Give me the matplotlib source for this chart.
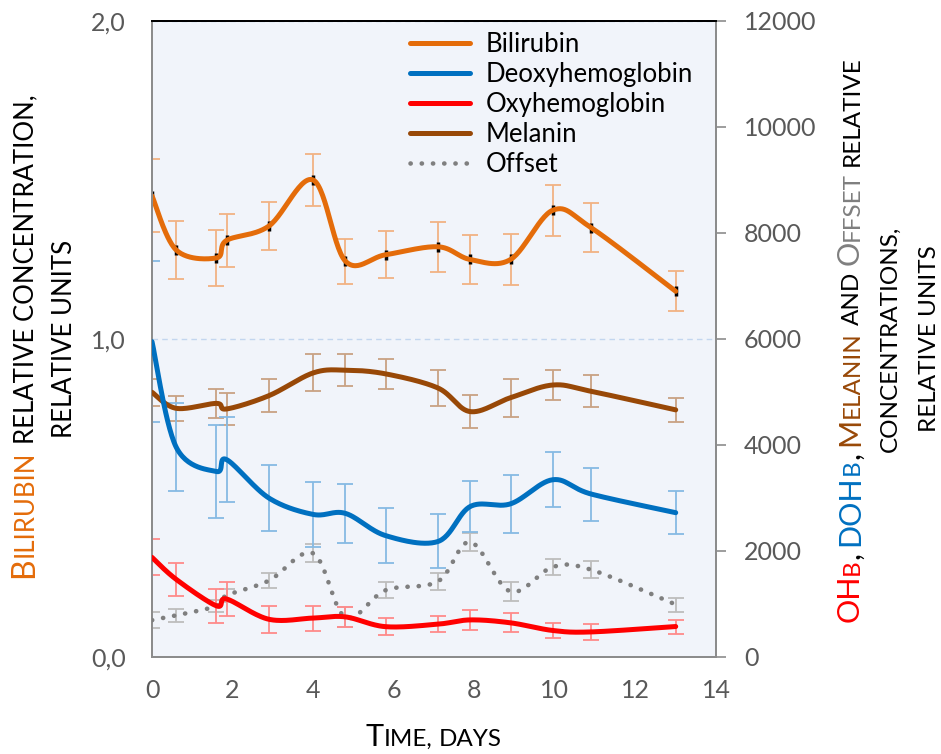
import numpy as np
import matplotlib
matplotlib.use('Agg')
import matplotlib.pyplot as plt
from matplotlib.lines import Line2D
from matplotlib.transforms import IdentityTransform
from matplotlib.font_manager import FontProperties

plt.rcParams['font.family'] = ['Lato', 'DejaVu Sans']

# measurement days
days = [0, 0.6, 1.6, 1.85, 2.9, 4.0, 4.8, 5.8, 7.1, 7.9, 8.9, 9.95, 10.9, 13.0]

# bilirubin, left axis
bilirubin = [1.45, 1.28, 1.255, 1.31, 1.355, 1.50, 1.245, 1.265, 1.29, 1.25, 1.25, 1.405, 1.35, 1.15]
bilirubin_err = [0.115, 0.09, 0.087, 0.083, 0.075, 0.083, 0.071, 0.074, 0.078, 0.078, 0.081, 0.08, 0.077, 0.063]

# right axis series
deoxy = [5950, 3960, 3500, 3725, 3000, 2690, 2710, 2290, 2180, 2840, 2890, 3345, 3075, 2723]
deoxy_err = [1520, 830, 870, 800, 620, 610, 550, 520, 510, 490, 550, 520, 500, 410]
oxy = [1880, 1465, 965, 1095, 712, 735, 757, 572, 620, 700, 645, 500, 473, 575]
oxy_err = [340, 315, 320, 327, 250, 235, 182, 157, 157, 195, 182, 141, 147, 132]
melanin = [4995, 4692, 4785, 4680, 4930, 5360, 5412, 5342, 5075, 4630, 4893, 5132, 5013, 4663]
melanin_err = [257, 233, 279, 307, 308, 349, 299, 285, 339, 314, 358, 283, 302, 229]
offset = [695, 785, 962, 1160, 1440, 1956, 750, 1260, 1428, 2170, 1236, 1700, 1647, 990]
offset_err = [154, 120, 120, 120, 141, 170, 192, 148, 157, 167, 182, 148, 157, 132]

x_ticks = [0, 2, 4, 6, 8, 10, 12, 14]
left_ticks = [0, 1, 2]
left_ticklabels = ['0,0', '1,0', '2,0']
right_ticks = [0, 2000, 4000, 6000, 8000, 10000, 12000]

ORANGE, BLUE, RED, BROWN, GREY = '#E46C0A', '#0070C0', '#FF0000', '#984807', '#7F7F7F'


def smooth_curve(x, y, steps=30):
    # Excel-like smoothed line: Bezier segments with Catmull-Rom control points
    p = np.column_stack([x, y]).astype(float)
    n = len(p)
    t = np.linspace(0, 1, steps)[:, None]
    parts = []
    for i in range(n - 1):
        p0, p1, p2, p3 = p[max(i - 1, 0)], p[i], p[i + 1], p[min(i + 2, n - 1)]
        c1 = p1 + (p2 - p0) / 6
        c2 = p2 - (p3 - p1) / 6
        seg = (1 - t) ** 3 * p1 + 3 * (1 - t) ** 2 * t * c1 + 3 * (1 - t) * t ** 2 * c2 + t ** 3 * p2
        parts.append(seg if i == 0 else seg[1:])
    s = np.vstack(parts)
    return s[:, 0], s[:, 1]


W, H = 941, 754
fig = plt.figure(figsize=(W / 100, H / 100), dpi=100)
ax = fig.add_axes([152 / W, 1 - 657 / H, (716 - 152) / W, (657 - 21) / H])
ax.set_facecolor('#F1F4FA')
ax2 = ax.twinx()

# bilirubin on the left scale
ax.errorbar(days, bilirubin, yerr=bilirubin_err, fmt='none', ecolor='#F2B283',
            elinewidth=1.3, capsize=6, capthick=1.3, zorder=2)
ax.plot(days, bilirubin, ls='none', marker='|', ms=7, mew=2.5, color='black', zorder=3)
ax.plot(*smooth_curve(days, bilirubin), color=ORANGE, lw=3.6, solid_capstyle='round', zorder=4)

# the rest on the right scale
series = [
    (offset, offset_err, GREY, '#BDBDBD'),
    (oxy, oxy_err, RED, '#FF8A8A'),
    (melanin, melanin_err, BROWN, '#C9A283'),
    (deoxy, deoxy_err, BLUE, '#86BAE3'),
]
for vals, err, col, ecol in series:
    ax2.errorbar(days, vals, yerr=err, fmt='none', ecolor=ecol,
                 elinewidth=1.3, capsize=6, capthick=1.3, zorder=2)
    sx, sy = smooth_curve(days, vals)
    if col == GREY:
        ax2.plot(sx, sy, color=col, lw=3.3, ls=(0, (0.05, 2.4)), dash_capstyle='round', zorder=3)
    else:
        ax2.plot(sx, sy, color=col, lw=3.6, solid_capstyle='round', zorder=3)

ax.set_xlim(0, 14)
ax.set_ylim(0, 2)
ax2.set_ylim(0, 12000)
ax.set_xticks(x_ticks)
ax.set_yticks(left_ticks)
ax.set_yticklabels(left_ticklabels)
ax2.set_yticks(right_ticks)

ax.set_axisbelow(True)
ax.yaxis.grid(True, color='#C3D6EF', ls=(0, (4, 3)), lw=1.0)

ax.tick_params(axis='both', length=0, labelsize=18, labelcolor='#595959')
ax.tick_params(axis='y', pad=19)
ax.tick_params(axis='x', pad=16)
ax2.tick_params(axis='y', length=7, width=1.2, color='#8C8C8C', direction='out',
                labelsize=18, labelcolor='#595959', pad=13)

for a in (ax, ax2):
    for side in ('left', 'right', 'bottom'):
        a.spines[side].set_color('#8C8C8C')
        a.spines[side].set_linewidth(1.4)
    a.spines['top'].set_color('black')
    a.spines['top'].set_linewidth(1.4)

handles = [
    Line2D([], [], color=ORANGE, lw=3.6, solid_capstyle='round'),
    Line2D([], [], color=BLUE, lw=3.6, solid_capstyle='round'),
    Line2D([], [], color=RED, lw=3.6, solid_capstyle='round'),
    Line2D([], [], color=BROWN, lw=3.6, solid_capstyle='round'),
    Line2D([], [], color=GREY, lw=3.3, ls=(0, (0.05, 2.4)), dash_capstyle='round'),
]
labels = ['Bilirubin', 'Deoxyhemoglobin', 'Oxyhemoglobin', 'Melanin', 'Offset']
ax2.legend(handles, labels, loc='upper left', bbox_to_anchor=(0.457, 0.982), frameon=False,
           fontsize=18.5, handlelength=2.35, handletextpad=0.6, labelspacing=0.19,
           borderaxespad=0, borderpad=0)


# small-caps style axis titles built from runs of text
BIG, SMALL = 22, 17.5
renderer = fig.canvas.get_renderer()


def advance(s, size):
    prop = FontProperties(family=['Lato', 'DejaVu Sans'], size=size)
    if s == ' ':
        return advance('x x', size) - advance('xx', size)
    w1 = renderer.get_text_width_height_descent(s + '|', prop, ismath=False)[0]
    w0 = renderer.get_text_width_height_descent('|', prop, ismath=False)[0]
    return w1 - w0


def draw_runs(runs, center, baseline, rotation):
    lens = [advance(s, size) for s, size, _ in runs]
    pos = center - sum(lens) / 2
    for (s, size, col), L in zip(runs, lens):
        if s != ' ':
            xy = (pos, baseline) if rotation == 0 else (baseline, pos)
            fig.text(xy[0], xy[1], s, fontsize=size, color=col, rotation=rotation,
                     rotation_mode='anchor', ha='left', va='baseline',
                     transform=IdentityTransform())
        pos += L


mid_y = H - 339

# left title
LB, LS = 23, 18.5
draw_runs([('B', LB, ORANGE), ('ILIRUBIN', LS, ORANGE), (' ', LS, None),
           ('RELATIVE CONCENTRATION,', LS, 'black')], H - 336, 33, 90)
draw_runs([('RELATIVE UNITS', LS, 'black')], mid_y, 72, 90)

# right title
SP = (' ', SMALL, None)
draw_runs([('OH', BIG, RED), ('B', SMALL, RED), (',', BIG, 'black'), SP,
           ('DOH', BIG, BLUE), ('B', SMALL, BLUE), (',', BIG, 'black'), SP,
           ('M', BIG, BROWN), ('ELANIN', SMALL, BROWN), SP, ('AND', SMALL, 'black'), SP,
           ('O', BIG, GREY), ('FFSET', SMALL, GREY), SP, ('RELATIVE', SMALL, 'black')],
          mid_y, 859, 90)
draw_runs([('CONCENTRATIONS,', SMALL, 'black')], mid_y, 897, 90)
draw_runs([('RELATIVE UNITS', SMALL, 'black')], mid_y, 936, 90)

# bottom title
draw_runs([('T', BIG, 'black'), ('IME,', SMALL, 'black'), SP, ('DAYS', SMALL, 'black')],
          433.5, H - 746, 0)

fig.savefig('out.png', dpi=100)
